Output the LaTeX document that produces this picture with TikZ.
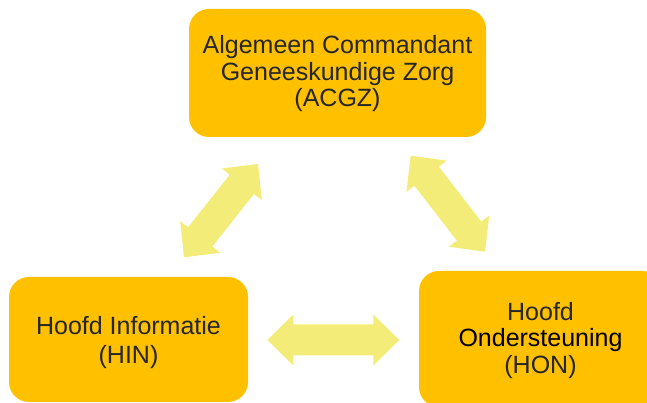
\documentclass[tikz,border=0pt]{standalone}
\usepackage{fontspec}
\setmainfont{Liberation Sans}
\usetikzlibrary{calc}

\definecolor{boxgold}{HTML}{FFC000}
\definecolor{arrowyellow}{HTML}{F3EC78}
\definecolor{textgray}{HTML}{262626}

% Block arrow with a head at both ends, drawn from tip #1 to tip #2
\newcommand\dblarrow[2]{%
  \fill[arrowyellow]
    (#1)
    -- ($(#1)!\hl!(#2)!\hw!90:(#2)$)
    -- ($(#1)!\hl!(#2)!\sw!90:(#2)$)
    -- ($(#2)!\hl!(#1)!\sw!-90:(#1)$)
    -- ($(#2)!\hl!(#1)!\hw!-90:(#1)$)
    -- (#2)
    -- ($(#2)!\hl!(#1)!\hw!90:(#1)$)
    -- ($(#2)!\hl!(#1)!\sw!90:(#1)$)
    -- ($(#1)!\hl!(#2)!\sw!-90:(#2)$)
    -- ($(#1)!\hl!(#2)!\hw!-90:(#2)$)
    -- cycle;}
\newcommand\hl{26pt}  % head length
\newcommand\hw{25.5pt}% head half width
\newcommand\sw{15.5pt}% shaft half width

% Centred lines of text, lowered by #1 inside their box
\newcommand\boxtext[2]{\raisebox{#1}[\height][\depth]{\begin{tabular}{@{}c@{}}#2\end{tabular}}}

\begin{document}
\begin{tikzpicture}[x=1pt,y=1pt,
  rolebox/.style={fill=boxgold, rounded corners=20pt,
    text=textgray, inner sep=0pt,
    font=\fontsize{25}{26.5}\selectfont},
]
\useasboundingbox (0,0) rectangle (647,403);
\clip (0,0) rectangle (647,403);

\node[rolebox, minimum width=297, minimum height=128] (acgz) at (337.5,330)
  {\boxtext{-2pt}{Algemeen Commandant\\Geneeskundige Zorg\\(ACGZ)}};
\node[rolebox, minimum width=239, minimum height=125,
  font=\fontsize{25}{29}\selectfont] (hin) at (128.5,63.5)
  {\boxtext{-3.5pt}{Hoofd Informatie\\(HIN)}};
\node[rolebox, minimum width=243, minimum height=136] (hon) at (540.5,64)
  {\boxtext{-2.5pt}{Hoofd\\\textcolor{black}{Ondersteuning}\\(HON)}};

% arrow tips
\coordinate (acgz-hin-a) at (184,145.7);
\coordinate (acgz-hin-b) at (258,239);
\coordinate (acgz-hon-a) at (410.7,247.3);
\coordinate (acgz-hon-b) at (485,151.3);
\coordinate (hin-hon-a) at (267.3,63);
\coordinate (hin-hon-b) at (399.3,63);

\dblarrow{acgz-hin-a}{acgz-hin-b}
\dblarrow{acgz-hon-a}{acgz-hon-b}
\dblarrow{hin-hon-a}{hin-hon-b}
\end{tikzpicture}
\end{document}
